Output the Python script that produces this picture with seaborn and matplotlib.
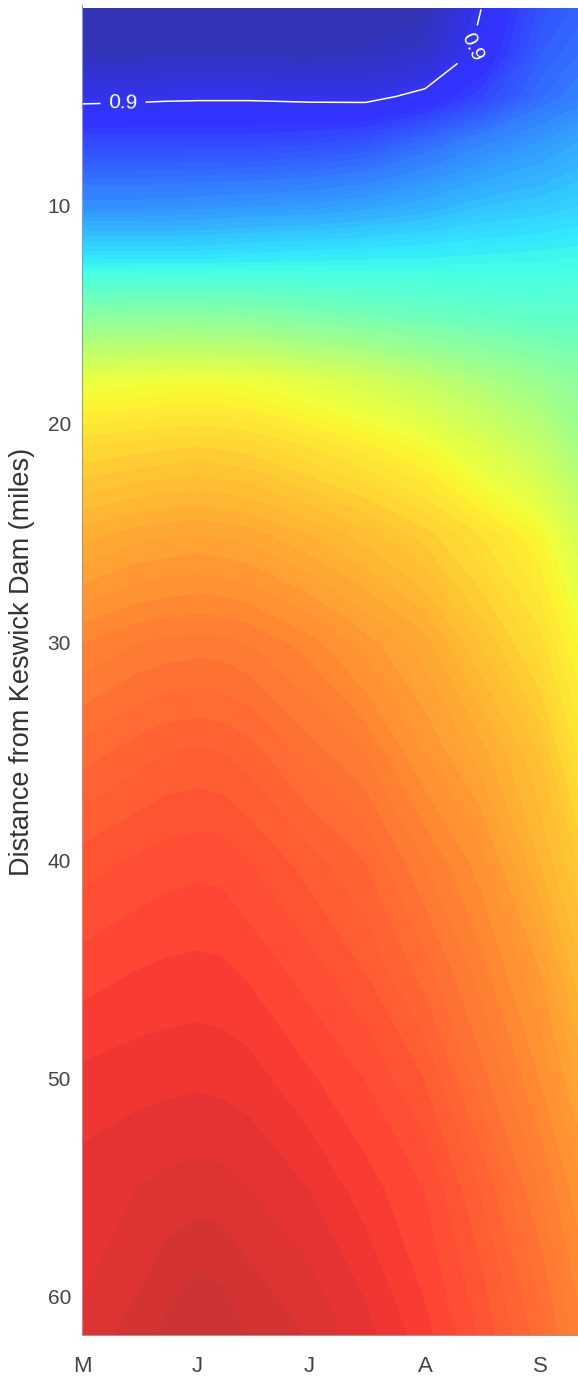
import numpy as np
import matplotlib
matplotlib.use("Agg")
import matplotlib.pyplot as plt
import seaborn as sns
from matplotlib.colors import ListedColormap

# river mile rows and date columns (day of year) of the gridded index
distance = [1, 3, 5, 7, 10, 12, 15, 18, 21, 25, 30, 35, 40, 45, 50, 55, 60, 62]
day_of_year = [121, 135, 143, 152, 159, 166, 182, 197, 213, 228, 244, 254]

may01 = [0.970, 0.960, 0.910, 0.850, 0.760, 0.670, 0.520, 0.370, 0.310, 0.255, 0.200, 0.165, 0.135, 0.115, 0.097, 0.085, 0.080, 0.075]
may15 = [0.970, 0.960, 0.908, 0.850, 0.760, 0.670, 0.515, 0.365, 0.305, 0.245, 0.190, 0.155, 0.128, 0.110, 0.094, 0.080, 0.070, 0.065]
may23 = [0.970, 0.960, 0.906, 0.850, 0.758, 0.670, 0.515, 0.362, 0.302, 0.242, 0.187, 0.150, 0.125, 0.108, 0.093, 0.077, 0.062, 0.057]
jun01 = [0.970, 0.960, 0.905, 0.850, 0.755, 0.670, 0.515, 0.360, 0.300, 0.240, 0.185, 0.148, 0.123, 0.107, 0.092, 0.075, 0.055, 0.050]
jun08 = [0.970, 0.960, 0.905, 0.850, 0.752, 0.668, 0.517, 0.362, 0.302, 0.242, 0.186, 0.150, 0.124, 0.108, 0.093, 0.076, 0.058, 0.053]
jun15 = [0.970, 0.960, 0.905, 0.850, 0.750, 0.665, 0.520, 0.365, 0.305, 0.245, 0.190, 0.155, 0.130, 0.112, 0.095, 0.080, 0.065, 0.060]
jul01 = [0.970, 0.960, 0.908, 0.845, 0.745, 0.660, 0.535, 0.380, 0.320, 0.260, 0.205, 0.175, 0.145, 0.125, 0.108, 0.090, 0.075, 0.070]
jul16 = [0.968, 0.958, 0.910, 0.835, 0.735, 0.655, 0.545, 0.400, 0.335, 0.275, 0.225, 0.190, 0.160, 0.140, 0.120, 0.105, 0.090, 0.085]
aug01 = [0.965, 0.945, 0.890, 0.805, 0.720, 0.650, 0.560, 0.430, 0.355, 0.295, 0.245, 0.220, 0.190, 0.165, 0.140, 0.120, 0.110, 0.105]
aug16 = [0.900, 0.890, 0.850, 0.775, 0.700, 0.645, 0.570, 0.460, 0.390, 0.320, 0.280, 0.245, 0.215, 0.195, 0.175, 0.150, 0.135, 0.130]
sep01 = [0.835, 0.820, 0.800, 0.750, 0.690, 0.640, 0.580, 0.490, 0.430, 0.350, 0.315, 0.280, 0.260, 0.230, 0.210, 0.190, 0.170, 0.165]
sep11 = [0.815, 0.800, 0.780, 0.730, 0.680, 0.635, 0.580, 0.510, 0.470, 0.400, 0.350, 0.320, 0.290, 0.265, 0.240, 0.215, 0.200, 0.195]

month_ticks = [121, 152, 182, 213, 244]
month_labels = ["M", "J", "J", "A", "S"]
dist_ticks = [10, 20, 30, 40, 50, 60]

sns.set_theme(style="white")
plt.rcParams["font.family"] = ["Liberation Sans", "DejaVu Sans"]

grid = np.column_stack([may01, may15, may23, jun01, jun08, jun15,
                        jul01, jul16, aug01, aug16, sep01, sep11])

# jet (reversed) washed out a bit, like the original rendering
base = sns.color_palette("jet_r", as_cmap=True)
cols = base(np.linspace(0, 1, 256))
cols[:, :3] = cols[:, :3] * 0.8 + 0.2
cmap = ListedColormap(cols)

fig = plt.figure(figsize=(5.78, 13.79), dpi=100)
ax = fig.add_axes([82 / 578, 44 / 1379, 496 / 578, 1330 / 1379])

filled = ax.contourf(day_of_year, distance, grid, levels=np.linspace(0, 1, 101),
                     cmap=cmap, vmin=0, vmax=1)
filled.set_edgecolor("face")

cs = ax.contour(day_of_year, distance, grid, levels=[0.9], colors="white", linewidths=1.1)
ax.clabel(cs, fmt="%.1f", fontsize=15, inline=True, inline_spacing=8,
          manual=[(132, 5.3), (222, 2.6)])

ax.set_xlim(121, 254)
ax.set_ylim(61.75, 0.8)
ax.set_xticks(month_ticks)
ax.set_xticklabels(month_labels)
ax.set_yticks(dist_ticks)
ax.tick_params(axis="both", direction="in", length=7, width=0.8,
               color="#333333", labelcolor="#444444")
ax.tick_params(axis="y", labelsize=15, pad=8, left=True)
ax.tick_params(axis="x", labelsize=16, pad=15, bottom=True)

ax.set_ylabel("Distance from Keswick Dam (miles)", fontsize=19.5, color="#333333")
ax.yaxis.set_label_coords(-0.095, 0.506)

for side in ["top", "right"]:
    ax.spines[side].set_visible(False)
for side in ["left", "bottom"]:
    ax.spines[side].set_color("#999999")
    ax.spines[side].set_linewidth(0.8)

plt.savefig("out.png", dpi=100)
plt.close()
